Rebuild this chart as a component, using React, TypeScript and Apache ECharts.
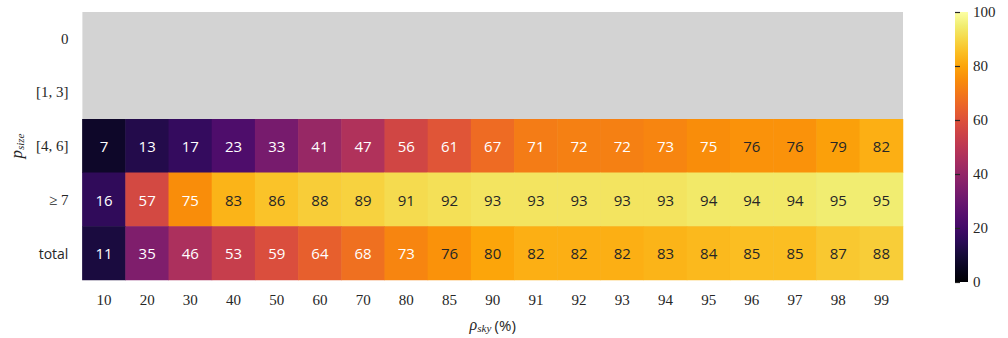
import React, { useEffect, useRef } from "react";
import * as echarts from "echarts";

const xCats = ["10", "20", "30", "40", "50", "60", "70", "80", "85", "90", "91", "92", "93", "94", "95", "96", "97", "98", "99"];
const yCats = ["0", "[1, 3]", "[4, 6]", "≥ 7", "total"];
const row46 = [7, 13, 17, 23, 33, 41, 47, 56, 61, 67, 71, 72, 72, 73, 75, 76, 76, 79, 82];
const row7 = [16, 57, 75, 83, 86, 88, 89, 91, 92, 93, 93, 93, 93, 93, 94, 94, 94, 95, 95];
const rowTotal = [11, 35, 46, 53, 59, 64, 68, 73, 76, 80, 82, 82, 82, 83, 84, 85, 85, 87, 88];

// "inferno" colormap sampled at 0, 0.05, ..., 1.0
const infernoStops = [
  "#000004", "#08051e", "#160b39", "#2b0b57", "#420a68", "#560f6d", "#6a176e",
  "#7f1e6c", "#932667", "#a82e5f", "#bc3754", "#cd4347", "#dd513a", "#ea632a",
  "#f37819", "#f98d0a", "#fca50a", "#fbbe22", "#f6d746", "#f1ed71", "#fcffa4",
];

const FONT_SERIF = "'Liberation Serif', 'DejaVu Serif', serif";
const FONT_SANS = "'Open Sans', 'Noto Sans', sans-serif";

export default function App() {
  const ref = useRef<HTMLDivElement>(null);
  useEffect(() => {
    if (!ref.current) return;
    const chart = echarts.init(ref.current, undefined, { renderer: "svg" });
    const rows = [
      { y: 2, vals: row46 },
      { y: 3, vals: row7 },
      { y: 4, vals: rowTotal },
    ];
    const data: any[] = [];
    rows.forEach((r) => {
      r.vals.forEach((v, i) => {
        data.push({
          value: [i, r.y, v],
          label: { color: v > 75 ? "#262626" : "#ffffff" },
        });
      });
    });
    const left = 77, top = 12, right = 105, bottom = 56;
    const cbLeft = 955, cbWidth = 13, cbHeight = 338 - top - bottom;
    const n = infernoStops.length - 1;
    const gradStops = infernoStops
      .map((c, i) => ({ offset: 1 - i / n, color: c }))
      .reverse();
    chart.setOption({
      animation: false,
      backgroundColor: "#ffffff",
      grid: [
        { left, right, top, bottom, show: true, backgroundColor: "#d3d3d3", borderWidth: 0 },
        { left: cbLeft, width: cbWidth, top, bottom, show: false },
      ],
      xAxis: [
        {
          type: "category",
          data: xCats,
          gridIndex: 0,
          axisLine: { show: false },
          axisTick: { show: false },
          splitLine: { show: false },
          axisLabel: { fontFamily: FONT_SERIF, fontSize: 15, color: "#262626", margin: 12 },
          name: "{r|ρ}{s|sky} {p|(%)}",
          nameLocation: "middle",
          nameGap: 36,
          nameTextStyle: {
            rich: {
              r: { fontFamily: FONT_SERIF, fontStyle: "italic", fontSize: 16, color: "#262626" },
              s: { fontFamily: FONT_SERIF, fontStyle: "italic", fontSize: 11, color: "#262626", padding: [6, 0, 0, 0] },
              p: { fontFamily: FONT_SANS, fontSize: 15, color: "#262626" },
            },
          },
        },
        { type: "value", gridIndex: 1, show: false, min: 0, max: 1 },
      ],
      yAxis: [
        {
          type: "category",
          data: yCats,
          inverse: true,
          gridIndex: 0,
          axisLine: { show: false },
          axisTick: { show: false },
          splitLine: { show: false },
          axisLabel: {
            fontSize: 14,
            color: "#262626",
            margin: 14,
            formatter: (v: string) => (v === "total" ? "{t|total}" : "{m|" + v + "}"),
            rich: {
              t: { fontFamily: FONT_SANS, fontSize: 14, color: "#262626" },
              m: { fontFamily: FONT_SERIF, fontSize: 15, color: "#262626" },
            },
          },
          name: "{p|p}{s|size}",
          nameLocation: "middle",
          nameGap: 52,
          nameRotate: 90,
          nameTextStyle: {
            rich: {
              p: { fontFamily: FONT_SERIF, fontStyle: "italic", fontSize: 17, color: "#262626" },
              s: { fontFamily: FONT_SERIF, fontStyle: "italic", fontSize: 11, color: "#262626", padding: [6, 0, 0, 0] },
            },
          },
        },
        {
          type: "value",
          gridIndex: 1,
          position: "right",
          min: 0,
          max: 100,
          interval: 20,
          axisLine: { show: false },
          axisTick: { show: true, length: 5, lineStyle: { color: "#262626", width: 1.2 } },
          splitLine: { show: false },
          axisLabel: { fontFamily: FONT_SERIF, fontSize: 15, color: "#262626", margin: 5 },
        },
      ],
      visualMap: {
        show: false,
        type: "continuous",
        min: 0,
        max: 100,
        dimension: 2,
        seriesIndex: 0,
        inRange: { color: infernoStops },
      },
      graphic: [
        {
          type: "rect",
          shape: { x: cbLeft, y: top, width: cbWidth, height: cbHeight },
          style: { fill: new echarts.graphic.LinearGradient(0, 0, 0, 1, gradStops) },
          silent: true,
        },
      ],
      series: [
        {
          type: "heatmap",
          xAxisIndex: 0,
          yAxisIndex: 0,
          data,
          label: { show: true, fontFamily: FONT_SANS, fontSize: 15 },
          itemStyle: { borderWidth: 0 },
          emphasis: { disabled: true },
        },
      ],
    });
    return () => chart.dispose();
  }, []);
  return <div ref={ref} style={{ position: "absolute", left: 0, top: 0, width: 1008, height: 338 }} />;
}
